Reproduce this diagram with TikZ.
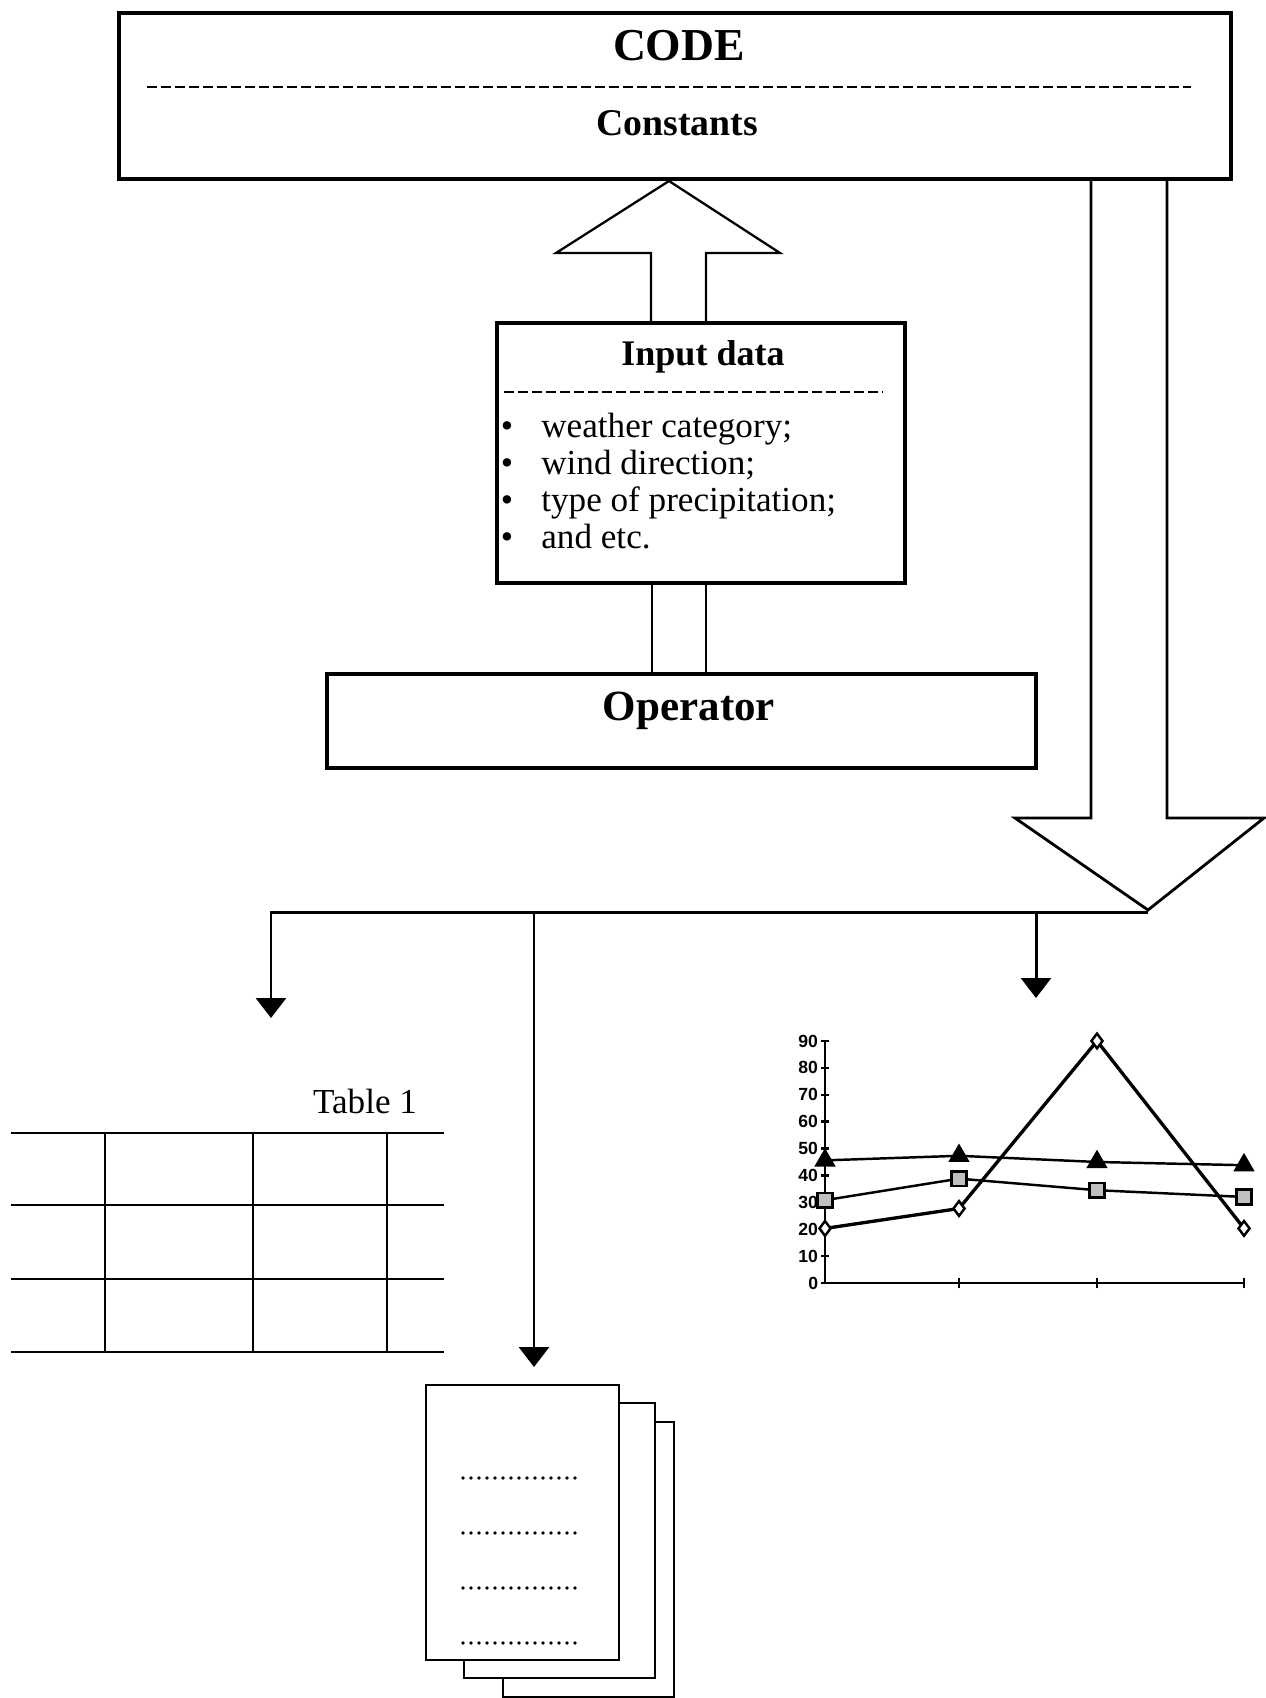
\documentclass[tikz,border=0pt]{standalone}
\usepackage{fontspec}
\setmainfont{Liberation Serif}
\newfontfamily\chartfont{Liberation Sans}
\usetikzlibrary{arrows.meta,plotmarks}

\begin{document}
\begin{tikzpicture}[
  x=0.02cm, y=-0.02cm,
  box/.style 2 args={draw, line width=2.2pt, minimum width=#1, minimum height=#2, inner sep=0pt},
  head/.style={font=\fontsize{#1}{#1}\selectfont\bfseries, anchor=base},
  sep/.style={line width=1.5pt, dash pattern=on 0.2cm off 0.08cm},
  hollow/.style={line width=#1, line join=miter},
  item/.style={font=\fontsize{20}{24}\selectfont, anchor=base west, inner sep=0pt},
  bul/.style={font=\fontsize{20}{24}\selectfont, anchor=base, inner sep=0pt},
  link/.style={line width=1.7pt, -{Triangle[width=0.6cm,length=0.4cm]}},
  grid/.style={line width=1.3pt},
  sheet/.style={draw, fill=white, line width=1.6pt},
  dots/.style={line width=2.1pt, line cap=round, dash pattern=on 0pt off 0.16cm},
  ylab/.style={font=\chartfont\bfseries\fontsize{10}{10}\selectfont, anchor=east, inner sep=1.5pt},
]
\useasboundingbox (0,0) rectangle (1266,1698);
% main boxes
\node[box={22.24cm}{3.32cm}] (code) at (675,96) {};
\node[head=26] (codet) at (679,60) {CODE};
\draw[sep] (147,87) -- (1191,87);
\node[head=21.5] (const) at (677,135) {Constants};
\node[box={8.16cm}{5.2cm}] (input) at (701,453) {};
\node[head=20.5] (inputt) at (703,365) {Input data};
\draw[sep] (504,392) -- (883,392);
\foreach \txt [count=\i] in {weather category;, wind direction;, type of precipitation;, and etc.} {
  \node[bul] (b\i) at (507,{437+37.3*(\i-1)}) {\textbullet};
  \node[item] (t\i) at (541,{437+37.3*(\i-1)}) {\txt};
}
\node[box={14.18cm}{1.88cm}] (oper) at (681.5,721) {};
\node[head=24.5] (opert) at (689,720) {Operator};
% block arrows
\draw[hollow=1.3pt] (651,323) -- (651,253) -- (556,253) -- (669,181) -- (780,253) -- (706,253) -- (706,323);
\draw[hollow=1.3pt] (652,583) -- (652,674) (706,583) -- (706,674);
\draw[hollow=1.6pt] (1091,179) -- (1091,818) -- (1015,818) -- (1148,910) -- (1264,818) -- (1167,818) -- (1167,179);
% outputs
\coordinate (hub) at (1148,912);
\coordinate (tabin) at (271,1018);
\coordinate (docin) at (534,1367);
\coordinate (chartin) at (1036,998);
\draw[link] (hub) -| (tabin);
\draw[link] (hub -| docin) -- (docin);
\draw[link] (hub -| chartin) -- (chartin);
% table
\node[font=\fontsize{20}{24}\selectfont, anchor=base] (tabname) at (365,1113) {Table 1};
\foreach \ty in {1133,1205,1279,1352} \draw[grid] (11,\ty) -- (444,\ty);
\foreach \tx in {105,253,387} \draw[grid] (\tx,1133) -- (\tx,1352);
% chart
\begin{scope}[shift={(825,1283)}, x=0.02cm, y=0.0538cm]
  \draw[line width=1.3pt] (0,90) -- (0,0) -- (419,0);
  \foreach \v in {0,10,...,90} {
    \draw[line width=1.3pt] (-4,\v) -- (4,\v);
    \node[ylab] (y\v) at (-4,\v) {\v};
  }
  \foreach \px in {134,272,419} \draw[line width=1.3pt] (\px,-2) -- (\px,2);
  \draw[line width=1.4pt] plot[mark=triangle*, mark size=5.6pt, mark options={fill=black}] coordinates {(0,45.6) (134,47.3) (272,45) (419,43.8)};
  \draw[line width=1.4pt] plot[mark=square*, mark size=4.2pt, mark options={fill=gray!50, line width=1.4pt}] coordinates {(0,30.8) (134,38.8) (272,34.5) (419,32)};
  \draw[line width=1.9pt] plot[mark=diamond*, mark size=4.2pt, mark options={fill=white, line width=1.4pt}] coordinates {(0,20.3) (134,27.7) (272,90) (419,20.3)};
\end{scope}
% pages
\draw[sheet] (503,1422) rectangle (674,1697);
\draw[sheet] (464,1403) rectangle (655,1678);
\draw[sheet] (426,1385) rectangle (619,1660);
\foreach \dy in {1478,1533,1588,1643} \draw[dots] (463,\dy) -- (577,\dy);
\end{tikzpicture}
\end{document}
